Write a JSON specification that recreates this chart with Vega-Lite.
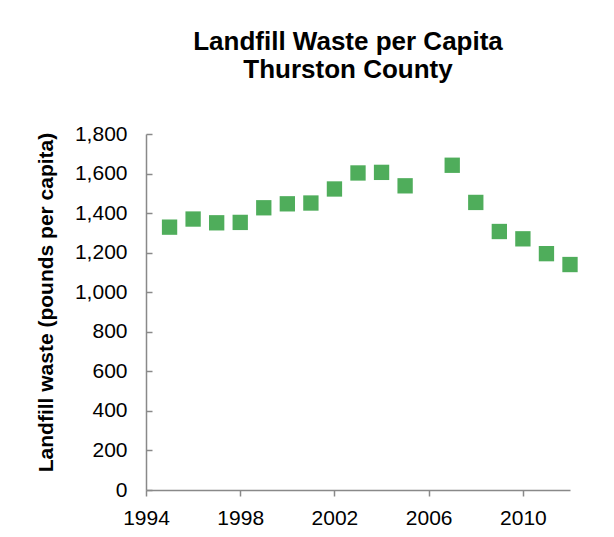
{
  "$schema": "https://vega.github.io/schema/vega-lite/v6.json",
  "width": 424,
  "height": 356,
  "autosize": {"type": "none"},
  "padding": {"left": 146, "top": 134, "right": 44, "bottom": 47},
  "background": "white",
  "title": {
    "text": ["Landfill Waste per Capita", "Thurston County"],
    "font": "Liberation Sans",
    "fontSize": 26,
    "fontWeight": "bold",
    "color": "#000000",
    "anchor": "middle",
    "frame": "group",
    "lineHeight": 28,
    "offset": 40,
    "dx": -10
  },
  "data": {
    "values": [
      {"year": 1995, "waste": 1329},
      {"year": 1996, "waste": 1370},
      {"year": 1997, "waste": 1351},
      {"year": 1998, "waste": 1353},
      {"year": 1999, "waste": 1427},
      {"year": 2000, "waste": 1447},
      {"year": 2001, "waste": 1451},
      {"year": 2002, "waste": 1522},
      {"year": 2003, "waste": 1603},
      {"year": 2004, "waste": 1606},
      {"year": 2005, "waste": 1538},
      {"year": 2007, "waste": 1642},
      {"year": 2008, "waste": 1454},
      {"year": 2009, "waste": 1307},
      {"year": 2010, "waste": 1270},
      {"year": 2011, "waste": 1195},
      {"year": 2012, "waste": 1140}
    ]
  },
  "mark": {"type": "square", "size": 235, "color": "#4FAD5B", "opacity": 1, "filled": true},
  "encoding": {
    "x": {
      "field": "year",
      "type": "quantitative",
      "scale": {"domain": [1994, 2012], "nice": false, "zero": false},
      "axis": {
        "title": null,
        "values": [1994, 1998, 2002, 2006, 2010],
        "format": "d",
        "grid": false,
        "labelFlush": false,
        "domainColor": "#898989",
        "domainWidth": 1.5,
        "tickColor": "#898989",
        "tickWidth": 1.5,
        "tickSize": 6,
        "labelPadding": 11,
        "labelFont": "Liberation Sans",
        "labelFontSize": 21,
        "labelColor": "#000000"
      }
    },
    "y": {
      "field": "waste",
      "type": "quantitative",
      "scale": {"domain": [0, 1800], "nice": false},
      "axis": {
        "title": "Landfill waste (pounds per capita)",
        "titleFont": "Liberation Sans",
        "titleFontSize": 21,
        "titleFontWeight": "bold",
        "titleColor": "#000000",
        "titleX": -100,
        "titleY": 168,
        "titleAngle": -90,
        "titleAlign": "center",
        "titleBaseline": "middle",
        "values": [0, 200, 400, 600, 800, 1000, 1200, 1400, 1600, 1800],
        "format": ",d",
        "grid": false,
        "labelFlush": false,
        "domainColor": "#898989",
        "domainWidth": 1.5,
        "tickColor": "#898989",
        "tickWidth": 1.5,
        "tickSize": -6,
        "labelPadding": 25,
        "labelFont": "Liberation Sans",
        "labelFontSize": 21,
        "labelColor": "#000000"
      }
    }
  },
  "config": {"view": {"stroke": null}}
}
